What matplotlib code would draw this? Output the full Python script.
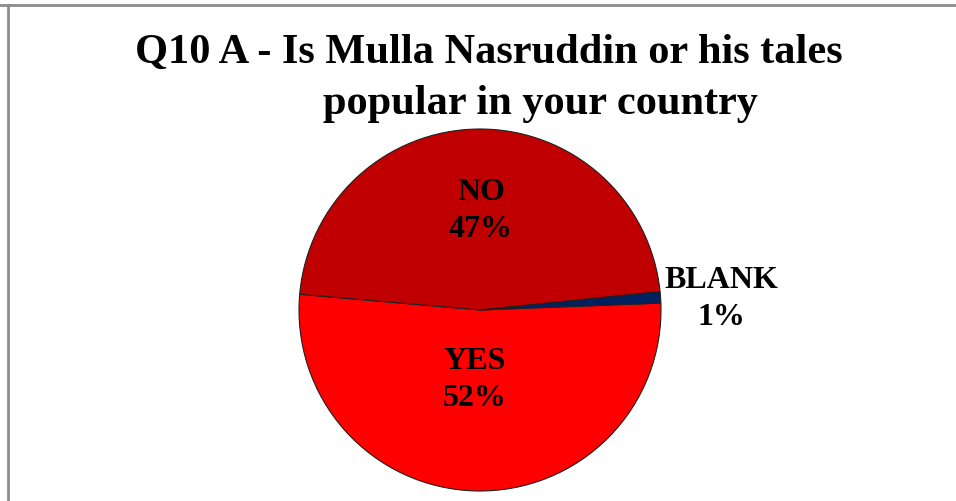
import matplotlib.pyplot as plt
from matplotlib.lines import Line2D

labels = ["YES", "NO", "BLANK"]
values = [52, 47, 1]
colors = ["#FF0000", "#C00000", "#002060"]

plt.rcParams['font.family'] = ['Liberation Serif', 'DejaVu Serif']

fig = plt.figure(figsize=(9.56, 5.01), dpi=100)

# thin grey frame at top/left (cropped screenshot)
fig.add_artist(Line2D([0, 1], [1 - 5 / 501, 1 - 5 / 501], color="#8c8c8c", lw=2))
fig.add_artist(Line2D([7.5 / 956, 7.5 / 956], [0, 1 - 5 / 501], color="#8c8c8c", lw=2))

fig.text(489 / 956, 1 - 53 / 501, "Q10 A - Is Mulla Nasruddin or his tales",
         ha="center", va="center", fontsize=30.5, fontweight="bold")
fig.text(540 / 956, 1 - 104 / 501, "popular in your country",
         ha="center", va="center", fontsize=30.5, fontweight="bold")

r = 181
cx, cy = 480, 310
ax = fig.add_axes([(cx - r) / 956, 1 - (cy + r) / 501, 2 * r / 956, 2 * r / 501])
wedges, _ = ax.pie(values, colors=colors, startangle=2.2, counterclock=False,
                   wedgeprops=dict(edgecolor="#202020", linewidth=0.8))
ax.set_xlim(-1, 1)
ax.set_ylim(-1, 1)
ax.set_aspect("auto")

# label positions in axes-relative coords
pos = {"YES": (475, 380), "NO": (481, 211), "BLANK": (721, 299)}
for lab, v in zip(labels, values):
    px, py = pos[lab]
    ax.text((px - cx) / r, (cy - py) / r, f"{lab}\n{v}%", ha="center", va="center",
            fontsize=23, fontweight="bold", linespacing=1.35, clip_on=False)

fig.savefig("out.png", dpi=100)
